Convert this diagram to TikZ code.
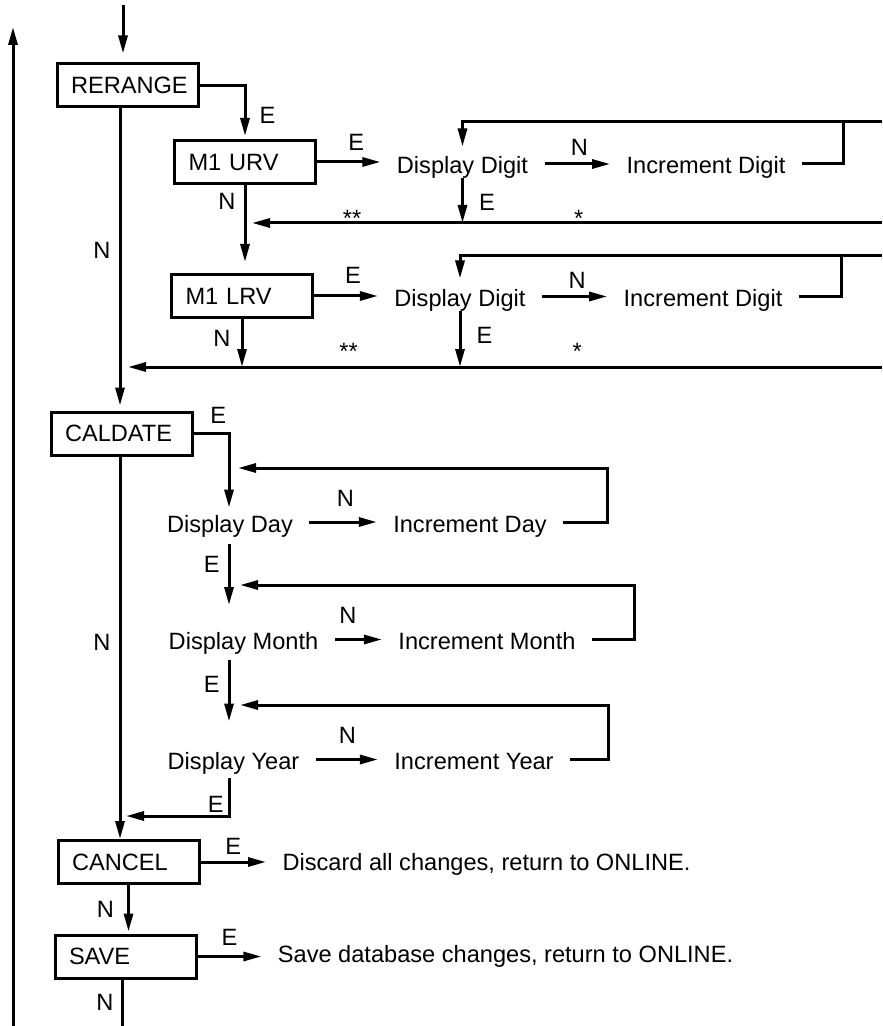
\documentclass[tikz,border=0pt]{standalone}
\usepackage{fontspec}
\setmainfont{Liberation Sans}
\usetikzlibrary{arrows.meta}
\tikzset{
  arr/.style={-{Triangle[length=9pt,width=4.5pt]}},
  box/.style={draw, line width=1.5pt, minimum height=21.5pt, inner xsep=7pt, inner ysep=0pt, text width=56.5pt, align=left},
  txt/.style={inner xsep=7.5pt, inner ysep=1.5pt, text height=10pt, text depth=0pt},
  lbl/.style={inner sep=0pt},
  ast/.style={inner sep=0pt, anchor=north},
}
\begin{document}
\begin{tikzpicture}[x=0.5pt,y=-0.5pt,line width=1.5pt,font=\fontsize{11.8}{14}\selectfont]
\useasboundingbox (0,0) rectangle (882,1026);
% free coordinates
\coordinate (in0) at (123,5);
\coordinate (ret0) at (13,1026);
\coordinate (ret1) at (13,27);
\coordinate (r1) at (882,122);
\coordinate (k1) at (843,122);
\coordinate (r1b) at (882,223);
\coordinate (r2) at (882,256);
\coordinate (k2) at (841,256);
\coordinate (r2b) at (882,367);
\coordinate (colA) at (120,0);
\coordinate (colB) at (229,0);
\coordinate (kd) at (607,468);
\coordinate (km) at (634,585);
\coordinate (ky) at (608,705);
\coordinate (ye) at (120,816);
\coordinate (sout) at (122,1026);
% boxes
\node[box] (rer) at (127.5,85.5) {RERANGE};
\node[box] (urv) at (245,162) {M1 URV};
\node[box] (lrv) at (242,296) {M1 LRV};
\node[box] (cal) at (121.5,433.5) {CALDATE};
\node[box] (can) at (128.5,862) {CANCEL};
\node[box] (save) at (125.5,956.5) {SAVE};
% texts
\node[txt] (dd1) at (462.5,164) {Display Digit};
\node[txt] (id1) at (706,164) {Increment Digit};
\node[txt] (dd2) at (460,296.5) {Display Digit};
\node[txt] (id2) at (703,296.5) {Increment Digit};
\node[txt] (dday) at (230,522) {Display Day};
\node[txt] (iday) at (470,522) {Increment Day};
\node[txt] (dmon) at (243.5,639.5) {Display Month};
\node[txt] (imon) at (487,639.5) {Increment Month};
\node[txt] (dyear) at (233.5,759.5) {Display Year};
\node[txt] (iyear) at (474,759.5) {Increment Year};
\node[txt] (disc) at (486.5,860) {Discard all changes, return to ONLINE.};
\node[txt] (savet) at (505.5,952.5) {Save database changes, return to ONLINE.};
% connectors
\draw[arr, shorten >=4.5pt] (in0) -- (in0 |- rer.north);
\draw[arr] (ret0) -- (ret1);
\draw[arr, shorten >=1.5pt] (rer.east) -| node[lbl,right=6.5pt,pos=0.78]{E} (urv.north);
\draw[arr, shorten >=2.5pt] (rer.south -| colA) -- node[lbl,left=4pt,pos=0.47]{N} (cal.north -| colA);
% row 1
\draw[arr] (urv.east) -- node[lbl,above=5pt,pos=0.62]{E} (urv.east -| dd1.west);
\draw[arr] (dd1.east) -- node[lbl,above=3.5pt,pos=0.53]{N} (id1.west);
\draw (id1.east) -| (k1);
\draw[arr, shorten >=1.5pt] (r1) -| (dd1.north);
\draw[arr] (dd1.south) -- node[lbl,right=7.5pt,pos=0.54]{E} (dd1.south |- r1b);
\draw[arr, shorten >=3.5pt] (r1b) -- node[ast,pos=0.832,yshift=7pt]{**} node[ast,pos=0.476,yshift=7pt]{*} (r1b -| urv.south);
\draw[arr, shorten >=5.5pt] (urv.south) -- node[lbl,left=4pt,pos=0.19]{N} (urv.south |- lrv.north);
% row 2
\draw[arr] (lrv.east) -- node[lbl,above=5.5pt,pos=0.61]{E} (lrv.east -| dd2.west);
\draw[arr] (dd2.east) -- node[lbl,above=3.25pt,pos=0.54]{N} (id2.west);
\draw (id2.east) -| (k2);
\draw[arr, shorten >=1.75pt] (r2) -| (dd2.north);
\draw[arr] (dd2.south) -- node[lbl,right=7.5pt,pos=0.43]{E} (dd2.south |- r2b);
\draw[arr, shorten >=4pt] (r2b) -- node[ast,pos=0.70,yshift=12.5pt]{**} node[ast,pos=0.40,yshift=12.5pt]{*} (r2b -| colA);
\draw[arr] (lrv.south) -- node[lbl,left=5pt,pos=0.41]{N} (lrv.south |- r2b);
% date
\draw[arr] (cal.east) -| node[lbl,above=4.25pt,pos=0.35]{E} (dday.north -| colB);
\draw[arr] (dday.east) -- node[lbl,above=7pt,pos=0.535]{N} (iday.west);
\draw[arr, shorten >=4.5pt] (iday.east) -| (kd) -- (kd -| colB);
\draw[arr, shorten <=3.5pt, shorten >=10pt] (dday.south -| colB) -- node[lbl,left=4pt,pos=0.31]{E} (dmon.north -| colB);
\draw[arr] (dmon.east) -- node[lbl,above=7.25pt,pos=0.28]{N} (imon.west);
\draw[arr, shorten >=5.5pt] (imon.east) -| (km) -- (km -| colB);
\draw[arr, shorten <=2.75pt, shorten >=11.75pt] (dmon.south -| colB) -- node[lbl,left=4pt,pos=0.335]{E} (dyear.north -| colB);
\draw[arr] (dyear.east) -- node[lbl,above=7.25pt,pos=0.51]{N} (iyear.west);
\draw[arr, shorten >=5.5pt] (iyear.east) -| (ky) -- (ky -| colB);
\draw[arr, shorten <=2pt, shorten >=3pt] (dyear.south -| colB) |- node[lbl,left=2pt,pos=0.36]{E} (ye);
\draw[arr] (cal.south -| colA) -- node[lbl,left=4pt,pos=0.486]{N} (can.north -| colA);
% cancel / save
\draw[arr] (can.east) -- node[lbl,above=3pt,pos=0.5]{E} (can.east -| disc.west);
\draw[arr, shorten >=1pt] (can.south) -- node[lbl,left=6.5pt,pos=0.5]{N} (can.south |- save.north);
\draw[arr] (save.east) -- node[lbl,above=5pt,pos=0.5]{E} (save.east -| savet.west);
\draw (save.south -| sout) -- node[lbl,left=3.5pt,pos=0.5]{N} (sout);
\end{tikzpicture}
\end{document}
